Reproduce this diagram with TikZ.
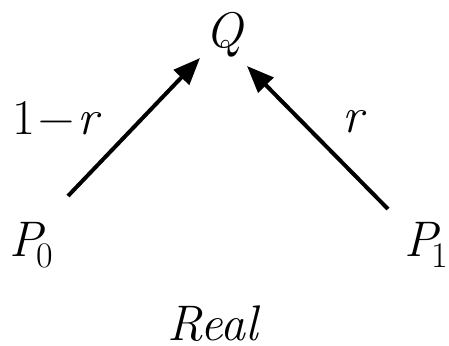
\documentclass[tikz,border=0pt]{standalone}
\usetikzlibrary{arrows.meta}
\tikzset{
  lbl/.style={inner sep=0pt, font=\fontsize{50}{50}\selectfont},
  arr/.style={line width=4pt, -{Triangle[length=27pt,width=21pt]}}
}
\newcommand{\subsc}[1]{\raisebox{-11pt}{\fontsize{36}{36}\selectfont #1}}
\begin{document}
\begin{tikzpicture}[x=1pt,y=1pt]
\useasboundingbox (0,0) rectangle (449,345);
\node[lbl, anchor=base] (Q) at (224,297) {\itshape Q};
\node[lbl, anchor=base west] (P0) at (9,88) {\itshape P\kern-6pt\upshape\subsc{0}};
\node[lbl, anchor=base west] (P1) at (404,88) {\itshape P\kern-6pt\upshape\subsc{1}};
\node[lbl, anchor=base west] (w0) at (12,210) {1\kern3pt−\kern3pt\itshape r};
\node[lbl, anchor=base west] (w1) at (342,212) {\itshape r};
\node[lbl, anchor=base] (real) at (213,5) {\itshape Real};
\coordinate (s0) at (68,149);
\coordinate (e0) at (200,287);
\coordinate (s1) at (388,136);
\coordinate (e1) at (247,279);
\draw[arr] (s0) -- (e0);
\draw[arr] (s1) -- (e1);
\end{tikzpicture}
\end{document}
